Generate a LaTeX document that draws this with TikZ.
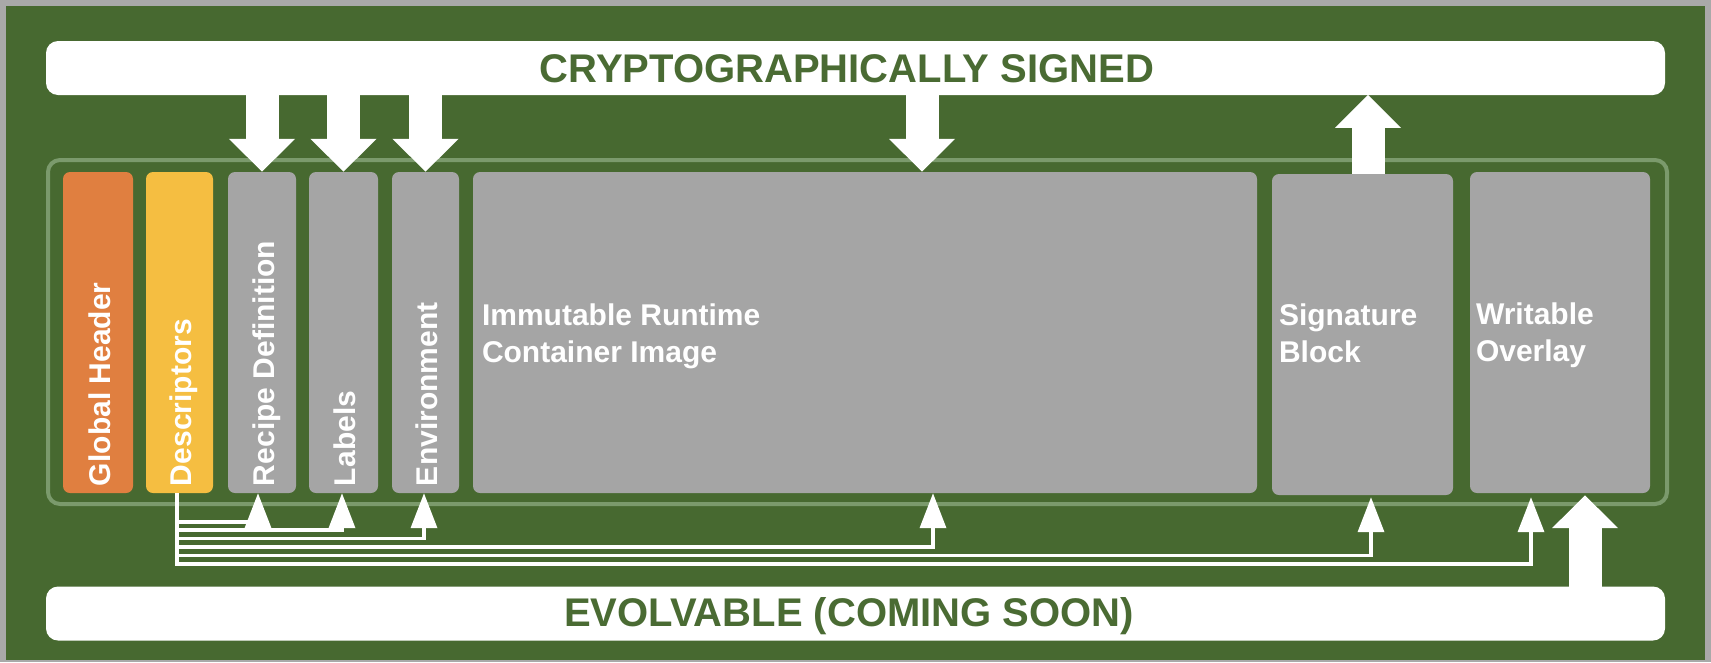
\documentclass[tikz,border=0pt]{standalone}
\usepackage{fontspec}
\setmainfont{Liberation Sans}
\usetikzlibrary{arrows.meta,calc}
\definecolor{bggreen}{HTML}{476930}
\definecolor{rimgreen}{HTML}{7B9A6C}
\definecolor{framegray}{HTML}{A9A9A9}
\definecolor{ghorange}{HTML}{E07F40}
\definecolor{descyellow}{HTML}{F5BE41}
\definecolor{segray}{HTML}{A5A5A5}
\definecolor{titlegreen}{HTML}{4A6B33}
\begin{document}
\begin{tikzpicture}[x=1pt,y=-1pt,
  bar/.style={fill=white, rounded corners=12pt, minimum width=1619pt, minimum height=54pt, inner sep=0pt},
  bartext/.style={font=\bfseries\fontsize{40}{48}\selectfont, text=titlegreen, anchor=base, inner sep=0pt},
  seg/.style={fill=segray, rounded corners=7pt, inner sep=0pt, minimum height=321pt},
  vlabel/.style={font=\bfseries\fontsize{30}{36}\selectfont, text=white, rotate=90, anchor=base west, inner sep=0pt},
  hlabel/.style={font=\bfseries\fontsize{30}{37}\selectfont, text=white, anchor=north west, align=left, inner sep=0pt},
  conn/.style={draw=white, line width=3.6pt, -{Triangle[length=35pt,width=26pt]}},
  blockarrow/.style={draw=white, line width=33pt, -{Triangle[length=33pt,width=64pt]}}
]
\fill[framegray] (0,0) rectangle (1711,662);
\fill[bggreen] (6,6) rectangle (1705,660);
\useasboundingbox (0,0) rectangle (1711,662);

\node[bar] (topbar) at (855.5,68) {};
\node[bar] (botbar) at (855.5,613.5) {};
\node[bartext] (toptext) at (847,82) {CRYPTOGRAPHICALLY SIGNED};
\node[bartext] (bottext) at (849,626) {EVOLVABLE (COMING SOON)};

\node[draw=rimgreen, line width=4pt, rounded corners=12pt, minimum width=1619pt, minimum height=344pt, inner sep=0pt] (cont) at (857.5,332) {};

\node[seg, fill=ghorange, minimum width=70pt] (gh) at (98,332.5) {};
\node[seg, fill=descyellow, minimum width=67pt] (desc) at (179.5,332.5) {};
\node[seg, minimum width=68pt] (recipe) at (262,332.5) {};
\node[seg, minimum width=69pt] (labels) at (343.5,332.5) {};
\node[seg, minimum width=67pt] (env) at (425.5,332.5) {};
\node[seg, minimum width=784pt] (imm) at (865,332.5) {};
\node[seg, minimum width=181pt] (sig) at (1362.5,334.5) {};
\node[seg, minimum width=180pt] (wo) at (1560,332.5) {};

\node[vlabel] (ghtext) at ($(gh.south)+(12,-7)$) {Global Header};
\node[vlabel] (desctext) at ($(desc.south)+(12,-7)$) {Descriptors};
\node[vlabel] (recipetext) at ($(recipe.south)+(12,-7)$) {Recipe Definition};
\node[vlabel] (labelstext) at ($(labels.south)+(12,-7)$) {Labels};
\node[vlabel] (envtext) at ($(env.south)+(12,-7)$) {Environment};

\node[hlabel] (immtext) at ($(imm.west)+(9,-28.5)$) {Immutable Runtime\\Container Image};
\node[hlabel] (sigtext) at ($(sig.west)+(7,-30.5)$) {Signature\\Block};
\node[hlabel] (wotext) at ($(wo.west)+(6,-29.5)$) {Writable\\Overlay};

\draw[blockarrow] ($(recipe.north)+(0,-80)$) -- (recipe.north);
\draw[blockarrow] ($(labels.north)+(0,-80)$) -- (labels.north);
\draw[blockarrow] ($(env.north)+(0,-80)$) -- (env.north);
\draw[blockarrow] ($(imm.north)+(57,-80)$) -- ($(imm.north)+(57,0)$);
\draw[blockarrow] ($(sig.north)+(5.5,0)$) -- ($(sig.north)+(5.5,-79)$);
\draw[blockarrow] ($(wo.south)+(25,95)$) -- ($(wo.south)+(25,2)$);

\coordinate (trunk) at ($(desc.south)+(-2.5,0)$);
\draw[conn] (trunk) |- ($(recipe.south)+(-4,28.5)$) -- ($(recipe.south)+(-4,0)$);
\draw[conn] (trunk) |- ($(labels.south)+(-1.5,36.9)$) -- ($(labels.south)+(-1.5,0)$);
\draw[conn] (trunk) |- ($(env.south)+(-1.5,45.3)$) -- ($(env.south)+(-1.5,0)$);
\draw[conn] (trunk) |- ($(imm.south)+(68,53.7)$) -- ($(imm.south)+(68,0)$);
\draw[conn] (trunk) |- ($(sig.south)+(8.5,60.1)$) -- ($(sig.south)+(8.5,2)$);
\draw[conn] (trunk) |- ($(wo.south)+(-29,70.5)$) -- ($(wo.south)+(-29,4)$);
\end{tikzpicture}
\end{document}
